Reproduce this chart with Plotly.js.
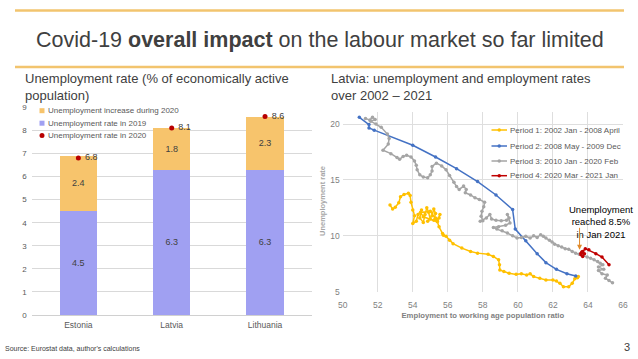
<!DOCTYPE html>
<html><head><meta charset="utf-8">
<script src="https://cdn.plot.ly/plotly-3.0.1.min.js"></script>
<style>html,body{margin:0;padding:0;background:#fff;}#chart{width:638px;height:359px;}</style>
</head><body><div id="chart"></div>
<script>
// ---- Left chart data ----
const countries = ['Estonia', 'Latvia', 'Lithuania'];
const rate2019 = [4.5, 6.3, 6.3];
const increase2020 = [2.4, 1.8, 2.3];
const rate2020 = [6.8, 8.1, 8.6];
const leftTicks = [0, 1, 2, 3, 4, 5, 6, 7, 8, 9];

// ---- Right chart data (Latvia: employment ratio x, unemployment rate y) ----
const p1x = [52.7, 52.85, 53.0, 53.2, 53.3, 53.5, 53.75, 53.85, 53.9, 54.0, 54.1, 54.0, 54.2, 54.3, 54.5, 54.4, 54.6, 54.7, 54.8, 54.9, 55.0, 54.85, 55.1, 55.2, 55.3, 55.2, 55.5, 55.55, 55.4, 54.6, 54.45, 55.0, 55.3, 55.4, 55.5, 55.7, 55.75, 55.9, 56.1, 56.3, 56.8, 57.3, 57.7, 58.3, 58.6, 58.9, 58.95, 58.97, 59.2, 59.5, 59.9, 60.2, 60.5, 60.7, 60.9, 61.25, 61.6, 62.0, 62.2, 62.4, 62.6, 62.9, 63.1, 63.25, 63.45, 63.4];
const p1y = [12.75, 12.4, 12.55, 12.95, 13.5, 13.7, 13.8, 13.6, 13.0, 12.3, 11.8, 11.1, 11.3, 11.9, 12.3, 11.6, 11.2, 11.9, 12.5, 12.1, 11.5, 11.3, 11.8, 12.4, 12.0, 11.4, 11.6, 11.9, 11.25, 11.7, 12.1, 12.2, 11.6, 11.3, 10.8, 10.2, 10.05, 9.95, 9.6, 9.3, 8.9, 8.6, 8.45, 8.35, 8.15, 7.85, 7.4, 6.95, 6.8, 6.65, 6.55, 6.6, 6.5, 6.6, 6.35, 6.2, 6.05, 6.05, 5.95, 5.75, 5.45, 5.45, 5.75, 6.15, 6.35, 6.25];

const p2x = [63.3, 62.8, 62.2, 61.6, 61.1, 60.45, 59.85, 59.7, 58.75, 57.7, 56.5, 55.3, 54.0, 51.8, 51.5, 51.5, 50.95];
const p2y = [6.4, 6.6, 7.0, 7.6, 8.4, 9.55, 10.6, 12.35, 13.65, 14.85, 16.0, 17.05, 18.1, 19.45, 19.65, 19.95, 20.6];

const p3x = [51.3, 51.55, 51.7, 51.85, 51.6, 51.9, 52.2, 52.55, 52.65, 52.6, 52.3, 52.75, 53.1, 53.25, 53.45, 53.65, 53.9, 54.1, 54.2, 54.25, 54.4, 54.6, 54.85, 55.0, 55.1, 55.1, 55.35, 55.65, 55.9, 56.1, 56.35, 56.5, 56.65, 56.9, 57.05, 57.0, 57.3, 57.55, 57.8, 58.1, 58.05, 57.95, 57.9, 58.0, 57.85, 58.2, 58.4, 58.5, 58.75, 59.05, 59.35, 59.5, 59.4, 59.55, 59.3, 58.9, 58.6, 58.8, 59.1, 59.4, 59.7, 59.95, 60.2, 60.45, 60.7, 60.9, 61.1, 61.3, 61.45, 61.6, 61.8, 61.95, 62.1, 62.3, 62.5, 62.7, 62.9, 63.1, 63.3, 63.5, 63.7, 63.95, 64.15, 64.35, 64.55, 64.7, 64.85, 64.6, 64.9, 64.6, 64.8, 65.1, 65.0, 65.2, 65.4];
const p3y = [20.5, 20.35, 20.6, 20.4, 20.25, 20.0, 19.7, 19.1, 18.7, 18.2, 17.65, 17.35, 17.0, 16.85, 17.1, 17.2, 17.05, 16.7, 16.3, 15.9, 15.45, 15.25, 15.2, 15.45, 15.8, 16.2, 16.5, 16.25, 15.9, 15.4, 14.8, 14.4, 14.15, 14.45, 14.15, 13.85, 13.65, 13.4, 13.25, 13.0, 12.6, 12.2, 11.75, 11.35, 11.3, 11.6, 11.9, 11.5, 11.4, 11.35, 11.4, 11.6, 11.9, 11.15, 10.95, 10.8, 10.75, 10.6, 10.45, 10.25, 10.0, 9.8, 9.85, 9.95, 9.8, 10.0, 9.85, 10.1, 9.95, 9.8, 9.6, 9.45, 9.25, 9.1, 9.0, 8.85, 8.8, 8.6, 8.45, 8.35, 8.25, 8.1, 8.0, 7.85, 7.7, 7.55, 7.4, 7.2, 7.0, 6.9, 6.6, 6.5, 6.2, 6.0, 5.8];

const p4x = [65.2, 64.8, 64.45, 64.05, 63.85, 63.7, 63.6, 63.7, 63.8, 63.65, 63.6];
const p4y = [7.4, 8.1, 8.4, 8.75, 8.85, 8.6, 8.3, 8.15, 8.4, 8.55, 8.45];

const periodNames = ['Period 1: 2002 Jan - 2008 April', 'Period 2: 2008 May - 2009 Dec', 'Period 3: 2010 Jan - 2020 Feb', 'Period 4: 2020 Mar - 2021 Jan'];
const periodColors = ['#ffc000', '#4472c4', '#a5a5a5', '#c00000'];
const rightXTicks = [50, 52, 54, 56, 58, 60, 62, 64, 66];
const rightYTicks = [5, 10, 15, 20];

// ---- helpers ----
const W = 638, H = 359;
const X = px => px / W;
const Y = py => 1 - py / H;
const FONT = 'Liberation Sans, Arial, sans-serif';
const GOLD = '#f2c46e';

const traces = [
  {type: 'bar', x: countries, y: rate2019, name: 'Unemployment rate in 2019', xaxis: 'x', yaxis: 'y',
   marker: {color: '#a0a0f2'}, text: rate2019.map(v => v.toFixed(1)), textposition: 'inside',
   insidetextanchor: 'middle', textfont: {family: FONT, size: 9, color: '#404040'}, showlegend: false, hoverinfo: 'none'},
  {type: 'bar', x: countries, y: increase2020, name: 'Unemployment increase during 2020', xaxis: 'x', yaxis: 'y',
   marker: {color: '#f7c46c'}, text: increase2020.map(v => v.toFixed(1)), textposition: 'inside',
   insidetextanchor: 'middle', textfont: {family: FONT, size: 9, color: '#404040'}, showlegend: false, hoverinfo: 'none'},
  {type: 'scatter', mode: 'markers+text', x: countries, y: rate2020, name: 'Unemployment rate in 2020', xaxis: 'x', yaxis: 'y',
   marker: {color: '#b80000', size: 5}, text: rate2020.map(v => ' ' + v.toFixed(1)), textposition: 'middle right',
   textfont: {family: FONT, size: 9, color: '#404040'}, showlegend: false, cliponaxis: false, hoverinfo: 'none'}
];
[[p1x, p1y], [p2x, p2y], [p3x, p3y], [p4x, p4y]].forEach((d, i) => {
  traces.push({type: 'scatter', mode: 'lines+markers', x: d[0], y: d[1], name: periodNames[i], xaxis: 'x2', yaxis: 'y2',
    line: {color: periodColors[i], width: 1.5}, marker: {color: periodColors[i], size: 3.5}, showlegend: false, hoverinfo: 'none'});
});

const shapes = [
  {type: 'line', xref: 'paper', yref: 'paper', x0: X(15), x1: X(624), y0: Y(10.5), y1: Y(10.5), line: {color: GOLD, width: 2.5}},
  {type: 'line', xref: 'paper', yref: 'paper', x0: X(15), x1: X(624), y0: Y(67), y1: Y(67), line: {color: GOLD, width: 2.5}}
];
const annotations = [
  {xref: 'paper', yref: 'paper', x: X(319.5), y: Y(40), xanchor: 'center', yanchor: 'middle', showarrow: false,
   text: 'Covid-19 <b>overall impact</b> on the labour market so far limited', font: {family: FONT, size: 21.5, color: '#404040'}},
  {xref: 'paper', yref: 'paper', x: X(23), y: Y(87), xanchor: 'left', yanchor: 'middle', showarrow: false, align: 'left',
   text: 'Unemployment rate (% of economically active<br>population)', font: {family: FONT, size: 13, color: '#404040'}},
  {xref: 'paper', yref: 'paper', x: X(329), y: Y(87), xanchor: 'left', yanchor: 'middle', showarrow: false, align: 'left',
   text: 'Latvia: unemployment and employment rates<br>over 2002 – 2021', font: {family: FONT, size: 13, color: '#404040'}},
  {xref: 'paper', yref: 'paper', x: X(3), y: Y(348), xanchor: 'left', yanchor: 'middle', showarrow: false,
   text: "Source: Eurostat data, author's calculations", font: {family: FONT, size: 7, color: '#404040'}},
  {xref: 'paper', yref: 'paper', x: X(632), y: Y(347), xanchor: 'right', yanchor: 'middle', showarrow: false,
   text: '3', font: {family: FONT, size: 11, color: '#404040'}},
  // right chart callout
  {xref: 'x2', yref: 'y2', x: 64.75, y: 11.25, xanchor: 'center', yanchor: 'middle', showarrow: false, align: 'center',
   text: 'Unemployment<br>reached 8.5%<br>in Jan 2021', font: {family: FONT, size: 9.5, color: '#000000'}},
  {xref: 'x2', yref: 'y2', axref: 'x2', ayref: 'y2', x: 63.52, y: 8.75, ax: 63.52, ay: 10.85, text: '',
   showarrow: true, arrowhead: 2, arrowsize: 1, arrowwidth: 1, arrowcolor: '#e08a2a'},
  // right y title (only partly visible in the reference)
  {xref: 'paper', yref: 'paper', x: X(322), y: Y(201), xanchor: 'center', yanchor: 'middle', showarrow: false, textangle: -90,
   text: '<b>Unemployment rate</b>', font: {family: FONT, size: 7.5, color: '#a6a6a6'}}
];

// left manual legend
const leftLegend = [
  {label: 'Unemployment increase during 2020', color: '#f7c46c', kind: 'square', py: 110.7},
  {label: 'Unemployment rate in 2019', color: '#a0a0f2', kind: 'square', py: 123.2},
  {label: 'Unemployment rate in 2020', color: '#b80000', kind: 'dot', py: 135.4}
];
leftLegend.forEach(it => {
  shapes.push({type: it.kind === 'square' ? 'rect' : 'circle', xref: 'paper', yref: 'paper',
    x0: X(39.5), x1: X(44.5), y0: Y(it.py + 2.5), y1: Y(it.py - 2.5), fillcolor: it.color, line: {width: 0}});
  annotations.push({xref: 'paper', yref: 'paper', x: X(46), y: Y(it.py), xanchor: 'left', yanchor: 'middle', showarrow: false,
    text: it.label, font: {family: FONT, size: 8, color: '#595959'}});
});
// right manual legend
[130, 146, 161, 175.7].forEach((py, i) => {
  shapes.push({type: 'line', xref: 'paper', yref: 'paper', x0: X(491.5), x1: X(507), y0: Y(py), y1: Y(py),
    line: {color: periodColors[i], width: 1.5}});
  shapes.push({type: 'circle', xref: 'paper', yref: 'paper', x0: X(497.5), x1: X(501), y0: Y(py + 1.75), y1: Y(py - 1.75),
    fillcolor: periodColors[i], line: {width: 0}});
  annotations.push({xref: 'paper', yref: 'paper', x: X(508), y: Y(py), xanchor: 'left', yanchor: 'middle', showarrow: false,
    text: periodNames[i], font: {family: FONT, size: 8, color: '#595959'}});
});

const layout = {
  width: W, height: H, autosize: false, margin: {l: 0, r: 0, t: 0, b: 0},
  paper_bgcolor: '#ffffff', plot_bgcolor: '#ffffff', showlegend: false,
  barmode: 'stack', bargap: 0.6,
  font: {family: FONT, color: '#595959'},
  xaxis: {domain: [X(31.7), X(311.7)], anchor: 'y', type: 'category', showgrid: false, zeroline: false,
    showline: false, ticks: '', ticklabelstandoff: 3, tickfont: {family: FONT, size: 8.5, color: '#595959'}, fixedrange: true},
  yaxis: {domain: [Y(315), Y(107.3)], anchor: 'x', range: [0, 9], tickvals: leftTicks, showgrid: true, gridcolor: '#d9d9d9',
    gridwidth: 1, zeroline: true, zerolinecolor: '#d0d0d0', showline: false, ticks: '', ticklabelstandoff: 4,
    tickfont: {family: FONT, size: 8, color: '#595959'}, fixedrange: true},
  xaxis2: {domain: [X(342.7), X(623)], anchor: 'y2', range: [50, 66], tickvals: rightXTicks, showgrid: true, gridcolor: '#dedede',
    zeroline: false, showline: false, ticks: '', ticklabelstandoff: 7, tickfont: {family: FONT, size: 8.5, color: '#7f7f7f'},
    title: {text: '<b>Employment to working age population ratio</b>', font: {family: FONT, size: 7.7, color: '#7f7f7f'}, standoff: 3}},
  yaxis2: {domain: [Y(291.7), Y(111.7)], anchor: 'x2', range: [5, 21.1], tickvals: rightYTicks, showgrid: true, gridcolor: '#dedede',
    zeroline: false, showline: false, ticks: '', ticklabelstandoff: 2, tickfont: {family: FONT, size: 8.5, color: '#7f7f7f'}},
  shapes: shapes, annotations: annotations
};

Plotly.newPlot('chart', traces, layout, {staticPlot: true, displayModeBar: false});
</script></body></html>
